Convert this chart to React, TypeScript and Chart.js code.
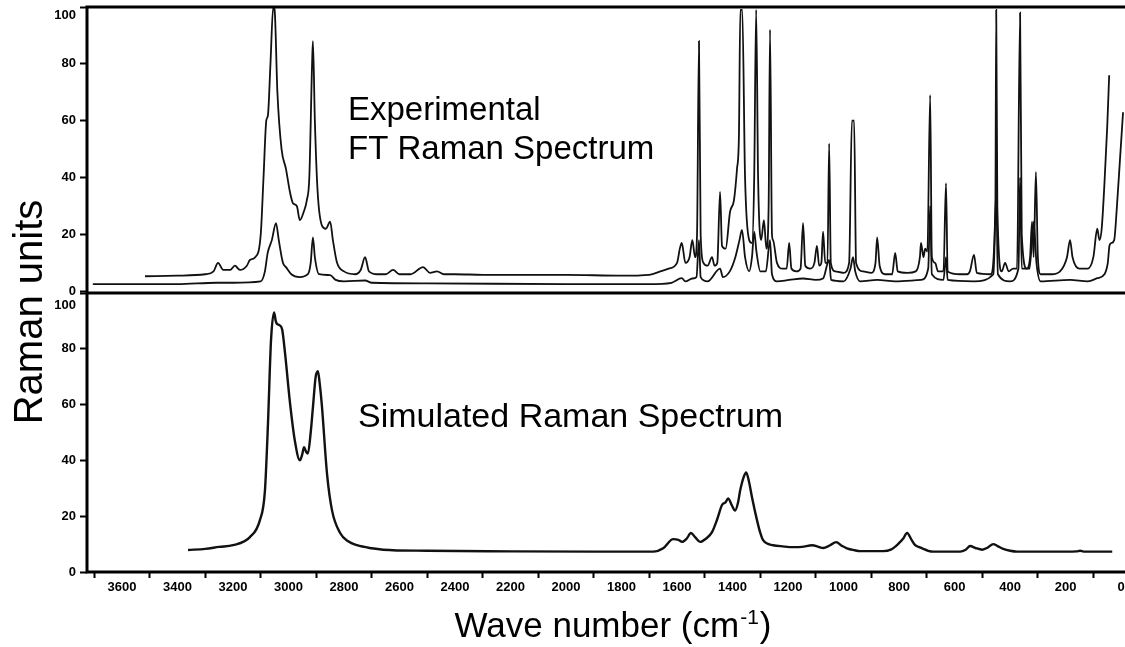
import { useEffect, useRef } from 'react';
import { Chart, registerables } from 'chart.js';

Chart.register(...registerables);

// Experimental FT Raman, upper trace: [wave number (cm-1), intensity]
const expUpper: [number, number][] = [
  [3517, 5.3], [3400, 5.5], [3300, 6], [3270, 7], [3254, 10], [3235, 7.5], [3210, 7.5], [3193, 9],
  [3175, 7.5], [3150, 9], [3139, 11], [3120, 12], [3100, 20], [3090, 40], [3080, 60], [3074, 62],
  [3065, 80], [3055, 100], [3050, 99], [3040, 70], [3025, 50], [3009, 43], [2995, 35], [2984, 31],
  [2970, 30], [2959, 25], [2945, 28], [2934, 32], [2925, 40], [2915, 80], [2912, 88], [2905, 60],
  [2895, 35], [2879, 23], [2865, 22], [2850, 24.5], [2840, 18], [2825, 10], [2800, 7], [2760, 6],
  [2740, 7.5], [2724, 12], [2710, 7], [2680, 6], [2650, 6], [2623, 7.5], [2600, 6], [2560, 6],
  [2515, 8.5], [2490, 6.5], [2465, 7], [2440, 6], [2400, 6], [2300, 5.8], [2200, 5.8], [2000, 5.8],
  [1800, 5.5], [1700, 5.8], [1660, 7], [1630, 8], [1600, 10], [1590, 15], [1583, 17], [1570, 10],
  [1555, 12], [1545, 18], [1535, 12], [1528, 20], [1521, 88], [1515, 20], [1505, 10], [1490, 9],
  [1474, 12], [1465, 9], [1455, 10], [1445, 35], [1438, 16], [1425, 15], [1409, 28], [1395, 32],
  [1384, 43], [1377, 55], [1372, 99], [1365, 99], [1355, 40], [1340, 18], [1330, 17], [1322, 40],
  [1315, 99], [1308, 40], [1297, 18], [1287, 25], [1278, 15], [1270, 30], [1265, 92], [1258, 20],
  [1254, 18], [1240, 10], [1220, 8], [1205, 8], [1196, 17], [1188, 8], [1170, 7], [1155, 8],
  [1146, 24], [1138, 9], [1120, 8], [1105, 10], [1096, 16], [1088, 9], [1080, 10], [1074, 21],
  [1066, 10], [1058, 10], [1052, 52], [1046, 10], [1030, 7], [1000, 6.5], [980, 10], [970, 60],
  [962, 60], [955, 10], [930, 7], [900, 6.5], [885, 10], [879, 19], [870, 9], [850, 6],
  [825, 6], [814, 13.5], [805, 7], [770, 6.5], [740, 7], [725, 12], [721, 17], [712, 12],
  [706, 15], [698, 14], [688, 69], [682, 12], [670, 10], [660, 7], [640, 7], [631, 38],
  [625, 7], [580, 6], [555, 6], [545, 7], [530, 12.8], [520, 6.5], [470, 6], [453, 30],
  [450, 99], [446, 30], [430, 7], [418, 10], [405, 7], [389, 8], [375, 8], [364, 98],
  [358, 20], [340, 8], [328, 12], [321, 24.5], [315, 12], [307, 42], [300, 12], [290, 6],
  [250, 6], [220, 7], [195, 12], [184, 18], [175, 12], [150, 8], [120, 8], [100, 12],
  [86, 22], [78, 18], [70, 22], [60, 38], [50, 58], [43, 76],
];

// Experimental FT Raman, lower trace
const expLower: [number, number][] = [
  [3705, 2.5], [3400, 2.5], [3260, 3], [3200, 3], [3100, 3.5], [3085, 7], [3075, 13.5], [3060, 18],
  [3045, 24], [3035, 18], [3020, 10], [3009, 8.5], [2990, 6], [2960, 5], [2930, 6], [2920, 10],
  [2912, 19], [2905, 12], [2890, 6], [2850, 5.7], [2830, 4], [2800, 3.5], [2724, 3.8], [2700, 3],
  [2500, 2.8], [2000, 2.5], [1700, 2.5], [1620, 3], [1583, 4.6], [1570, 3.5], [1545, 4.5], [1530, 5],
  [1521, 18], [1515, 5], [1490, 3.5], [1445, 8], [1435, 5], [1410, 7], [1390, 12], [1375, 18],
  [1366, 21.6], [1355, 12], [1340, 7], [1330, 12], [1322, 21], [1314, 14], [1300, 7], [1280, 7],
  [1265, 18], [1258, 6], [1240, 3.5], [1196, 4], [1146, 4.5], [1100, 4], [1074, 4.5], [1052, 11],
  [1045, 4], [1000, 3.5], [975, 8], [966, 12], [958, 7], [940, 3.5], [879, 4], [814, 3.5],
  [721, 4], [695, 8], [688, 30], [682, 6], [640, 4], [631, 12], [625, 4], [530, 3.5],
  [460, 6], [450, 35], [444, 6], [400, 3.5], [370, 8], [364, 40], [358, 8], [330, 8],
  [315, 24.5], [305, 10], [290, 3.5], [184, 4], [120, 3.5], [86, 4.6], [60, 6], [48, 10],
  [42, 16], [35, 17], [25, 18], [15, 30], [5, 45], [-7, 63],
];

// Simulated Raman spectrum
const simulated: [number, number][] = [
  [3362, 7.9], [3300, 8.3], [3250, 9], [3200, 9.6], [3139, 12.5], [3103, 18.6], [3085, 29], [3074, 53],
  [3063, 83], [3052, 93], [3046, 90], [3042, 89], [3033, 88.5], [3023, 87], [3012, 78], [2995, 61],
  [2977, 47], [2959, 40], [2951, 42], [2944, 44.7], [2936, 43], [2930, 42.5], [2920, 50], [2912, 59],
  [2902, 70], [2894, 72], [2888, 68], [2880, 60], [2861, 35], [2843, 22], [2814, 14], [2785, 11],
  [2753, 9.6], [2700, 8.5], [2659, 8], [2500, 7.6], [2200, 7.4], [1900, 7.3], [1686, 7.3], [1650, 8.5],
  [1614, 11.8], [1595, 11.5], [1582, 10.8], [1565, 12], [1550, 14], [1535, 12.5], [1517, 10.8], [1495, 12],
  [1474, 14.3], [1455, 19], [1438, 24], [1425, 25], [1416, 26.4], [1403, 24], [1391, 22], [1380, 25],
  [1373, 29], [1360, 34], [1351, 35.7], [1340, 32], [1330, 26.8], [1312, 18.6], [1300, 14], [1290, 11.4],
  [1270, 10], [1254, 9.6], [1220, 9.2], [1182, 8.9], [1150, 9], [1113, 9.6], [1090, 9], [1074, 8.6],
  [1050, 9.5], [1027, 10.7], [1005, 9.3], [988, 8.5], [960, 7.8], [941, 7.5], [900, 7.5], [858, 7.5],
  [830, 8], [804, 10], [785, 12], [771, 14], [755, 11.5], [742, 9.6], [725, 8.8], [713, 8.3],
  [695, 7.6], [677, 7.3], [580, 7.3], [560, 8], [544, 9.3], [525, 8.6], [500, 8], [480, 8.8],
  [461, 10], [445, 9.3], [425, 8.3], [400, 7.6], [375, 7.3], [200, 7.3], [160, 7.4], [148, 7.6],
  [135, 7.3], [32, 7.3],
];

const xRange = { min: -14, max: 3726 };
const xStep = 100;
const xLabelEvery = 200;
const yStep = 20;
const yMax = 100;

const FAMILY = '"Liberation Sans", Arial, Helvetica, sans-serif';
const font = (size: number, weight = 'normal') => `${weight} ${size}px ${FAMILY}`;

const decorPlugin = {
  id: 'decor',
  afterDraw(chart: any) {
    const { ctx, chartArea: a, scales } = chart;
    const mid = scales.yBot.top;
    ctx.save();
    // frame lines
    ctx.strokeStyle = '#000';
    ctx.lineWidth = 3;
    ctx.beginPath();
    ctx.moveTo(a.left, a.top);
    ctx.lineTo(a.right, a.top);
    ctx.moveTo(a.left, mid);
    ctx.lineTo(a.right, mid);
    ctx.moveTo(a.left, a.bottom);
    ctx.lineTo(a.right, a.bottom);
    ctx.moveTo(a.left, a.top - 1.5);
    ctx.lineTo(a.left, a.bottom + 1.5);
    ctx.stroke();

    ctx.fillStyle = '#000';
    // top labels of each panel, nudged inside
    ctx.font = font(13, 'bold');
    ctx.textAlign = 'right';
    ctx.textBaseline = 'middle';
    const lx = scales.yTop.right - 7 - 4;
    ctx.fillText(String(yMax), lx, scales.yTop.getPixelForValue(yMax) + 8);
    ctx.fillText(String(yMax), lx, scales.yBot.getPixelForValue(yMax) + 12);

    // annotations
    ctx.textAlign = 'left';
    ctx.textBaseline = 'alphabetic';
    ctx.font = font(33);
    ctx.fillText('Experimental', 348, 120);
    ctx.fillText('FT Raman Spectrum', 348, 159);
    ctx.font = font(34);
    ctx.fillText('Simulated Raman Spectrum', 358, 427);

    // y title
    ctx.save();
    ctx.translate(42, 312);
    ctx.rotate(-Math.PI / 2);
    ctx.textAlign = 'center';
    ctx.font = font(40);
    ctx.fillText('Raman units', 0, 0);
    ctx.restore();

    // x title with superscript
    const main = 'Wave number (cm';
    const sup = '-1';
    const close = ')';
    ctx.font = font(35);
    const wMain = ctx.measureText(main).width;
    const wClose = ctx.measureText(close).width;
    ctx.font = font(21);
    const wSup = ctx.measureText(sup).width;
    const total = wMain + wSup + wClose + 2;
    let x = 613 - total / 2;
    const base = 637;
    ctx.textAlign = 'left';
    ctx.font = font(35);
    ctx.fillText(main, x, base);
    x += wMain + 1;
    ctx.font = font(21);
    ctx.fillText(sup, x, base - 13);
    x += wSup + 1;
    ctx.font = font(35);
    ctx.fillText(close, x, base);
    ctx.restore();
  },
};

const toPoints = (arr: [number, number][]) => arr.map(([x, y]) => ({ x, y }));

const lineStyle = (width: number) => ({
  borderColor: '#111',
  borderWidth: width,
  pointRadius: 0,
  fill: false,
  cubicInterpolationMode: 'monotone' as const,
});

const yScale = (min: number, weight: number, stackWeight: number) => ({
  type: 'linear' as const,
  position: 'left' as const,
  stack: 'panels',
  stackWeight,
  weight,
  min,
  max: yMax,
  border: { display: false },
  grid: { drawOnChartArea: false, drawTicks: true, tickLength: 7, tickWidth: 2, tickColor: '#000' },
  ticks: {
    stepSize: yStep,
    includeBounds: false,
    padding: 4,
    color: '#000',
    font: { family: FAMILY, size: 13, weight: 'bold' as const },
    callback: (v: any) => (Number(v) === yMax ? '' : String(v)),
  },
  afterFit: (s: any) => {
    s.width = 87;
    s.paddingTop = 0;
    s.paddingBottom = 0;
  },
});

export default function App() {
  const ref = useRef<HTMLCanvasElement>(null);
  useEffect(() => {
    document.body.style.margin = '0';
    if (!ref.current) return;
    const chart = new Chart(ref.current, {
      type: 'line',
      data: {
        datasets: [
          { label: 'Experimental (upper)', data: toPoints(expUpper), yAxisID: 'yTop', ...lineStyle(1.8) },
          { label: 'Experimental (lower)', data: toPoints(expLower), yAxisID: 'yTop', ...lineStyle(1.8) },
          { label: 'Simulated', data: toPoints(simulated), yAxisID: 'yBot', ...lineStyle(2.4) },
        ],
      },
      options: {
        animation: false,
        responsive: false,
        devicePixelRatio: 1,
        layout: { padding: { top: 7, left: 0, right: 0, bottom: 0 } },
        plugins: { legend: { display: false }, tooltip: { enabled: false } },
        scales: {
          x: {
            type: 'linear',
            position: 'bottom',
            reverse: true,
            min: xRange.min,
            max: xRange.max,
            border: { display: false },
            grid: {
              drawOnChartArea: false,
              drawTicks: true,
              tickLength: 6,
              tickWidth: 2,
              tickColor: (c: any) =>
                c.tick && Math.round(c.tick.value) % xLabelEvery !== 0 ? '#000' : 'rgba(0,0,0,0)',
            },
            ticks: {
              stepSize: xStep,
              autoSkip: false,
              maxRotation: 0,
              includeBounds: false,
              padding: 2,
              color: '#000',
              font: { family: FAMILY, size: 13, weight: 'bold' },
              callback: (v: any) => (Math.round(Number(v)) % xLabelEvery === 0 ? String(v) : ''),
            },
            afterFit: (s: any) => {
              s.height = 75;
              s.paddingLeft = 0;
              s.paddingRight = 0;
            },
          },
          yTop: yScale(-0.6, 2, 286),
          yBot: yScale(0, 1, 279),
        },
      },
      plugins: [decorPlugin],
    } as any);
    return () => chart.destroy();
  }, []);
  return (
    <div style={{ position: 'fixed', left: 0, top: 0, width: 1125, height: 647, background: '#fff' }}>
      <canvas ref={ref} width={1125} height={647} style={{ display: 'block' }} />
    </div>
  );
}
